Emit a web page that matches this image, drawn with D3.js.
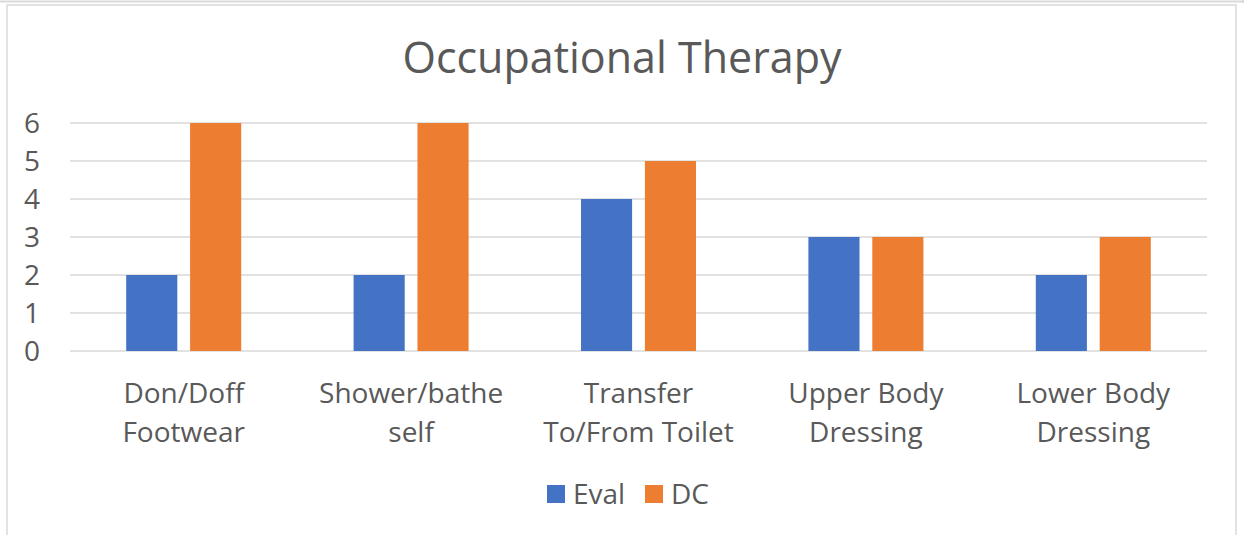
<!DOCTYPE html>
<html>
<head>
<meta charset="utf-8">
<script src="https://cdn.jsdelivr.net/npm/d3@7"></script>
<style>
  body { margin: 0; background: #fff; }
  text { font-family: "Open Sans", sans-serif; fill: #595959; }
</style>
</head>
<body>
<div id="chart"></div>
<script>
let categories = [["Don/Doff", "Footwear"], ["Shower/bathe", "self"], ["Transfer", "To/From Toilet"], ["Upper Body", "Dressing"], ["Lower Body", "Dressing"]];
let seriesNames = ["Eval", "DC"];
let evalValues = [2, 2, 4, 3, 2];
let dcValues = [6, 6, 5, 3, 3];
let yTicks = [0, 1, 2, 3, 4, 5, 6];
let colors = ["#4472C4", "#ED7D31"];

let width = 1244, height = 535;
let margin = {top: 123, left: 70, right: 37, bottom: 184};

let svg = d3.select("#chart").append("svg")
    .attr("width", width)
    .attr("height", height);

// outer frame bits
svg.append("line").attr("x1", 0).attr("x2", 1243).attr("y1", 1.5).attr("y2", 1.5)
    .attr("stroke", "#d9d9d9").attr("stroke-width", 2);
svg.append("line").attr("x1", 1243).attr("x2", 1243).attr("y1", 0).attr("y2", 3)
    .attr("stroke", "#d9d9d9").attr("stroke-width", 2);
svg.append("rect").attr("x", 7).attr("y", 5).attr("width", 1229).attr("height", 540)
    .attr("fill", "none").attr("stroke", "#d9d9d9").attr("stroke-width", 1.5);

let plotW = width - margin.left - margin.right;
let plotH = height - margin.top - margin.bottom;

let g = svg.append("g").attr("transform", `translate(${margin.left},${margin.top})`);

let x = d3.scaleBand()
    .domain(categories.map(d => d.join(" ")))
    .range([0, plotW]);

let x1 = d3.scaleBand()
    .domain(seriesNames)
    .range([x.bandwidth() / 2 - 57.5, x.bandwidth() / 2 + 57.5])
    .paddingInner(0.2);

let y = d3.scaleLinear().domain([0, 6]).range([plotH, 0]);

// gridlines
g.selectAll(".grid").data(yTicks).enter().append("line")
    .attr("x1", 0).attr("x2", plotW)
    .attr("y1", d => y(d)).attr("y2", d => y(d))
    .attr("stroke", "#d9d9d9").attr("stroke-width", 1.5);

// y labels
g.selectAll(".ylab").data(yTicks).enter().append("text")
    .attr("x", -30).attr("y", d => y(d))
    .attr("dy", "0.36em")
    .attr("text-anchor", "end")
    .style("font-size", "28px")
    .text(d => d);

let rows = categories.map((c, i) => ({key: c.join(" "), lines: c, vals: [evalValues[i], dcValues[i]]}));

let groups = g.selectAll(".cat").data(rows).enter().append("g")
    .attr("transform", d => `translate(${x(d.key)},0)`);

groups.selectAll("rect").data(d => d.vals.map((v, i) => ({s: seriesNames[i], v: v, i: i})))
    .enter().append("rect")
    .attr("x", d => x1(d.s))
    .attr("width", x1.bandwidth())
    .attr("y", d => y(d.v))
    .attr("height", d => y(0) - y(d.v))
    .attr("fill", d => colors[d.i]);

groups.each(function(d) {
    let t = d3.select(this).append("text")
        .attr("text-anchor", "middle")
        .style("font-size", "28px");
    d.lines.forEach((ln, k) => {
        t.append("tspan").attr("x", x.bandwidth() / 2)
            .attr("y", plotH + 52 + k * 39)
            .text(ln);
    });
});

// title
svg.append("text")
    .attr("x", 622).attr("y", 73)
    .attr("text-anchor", "middle")
    .style("font-size", "43px")
    .text("Occupational Therapy");

// legend
let legend = svg.append("g").attr("transform", "translate(547,485)");
let lx = [0, 98];
seriesNames.forEach((s, i) => {
    legend.append("rect").attr("x", lx[i]).attr("y", 0).attr("width", 18).attr("height", 18)
        .attr("fill", colors[i]);
    legend.append("text").attr("x", lx[i] + 26).attr("y", 9).attr("dy", "0.36em")
        .style("font-size", "28px").text(s);
});
</script>
</body>
</html>
